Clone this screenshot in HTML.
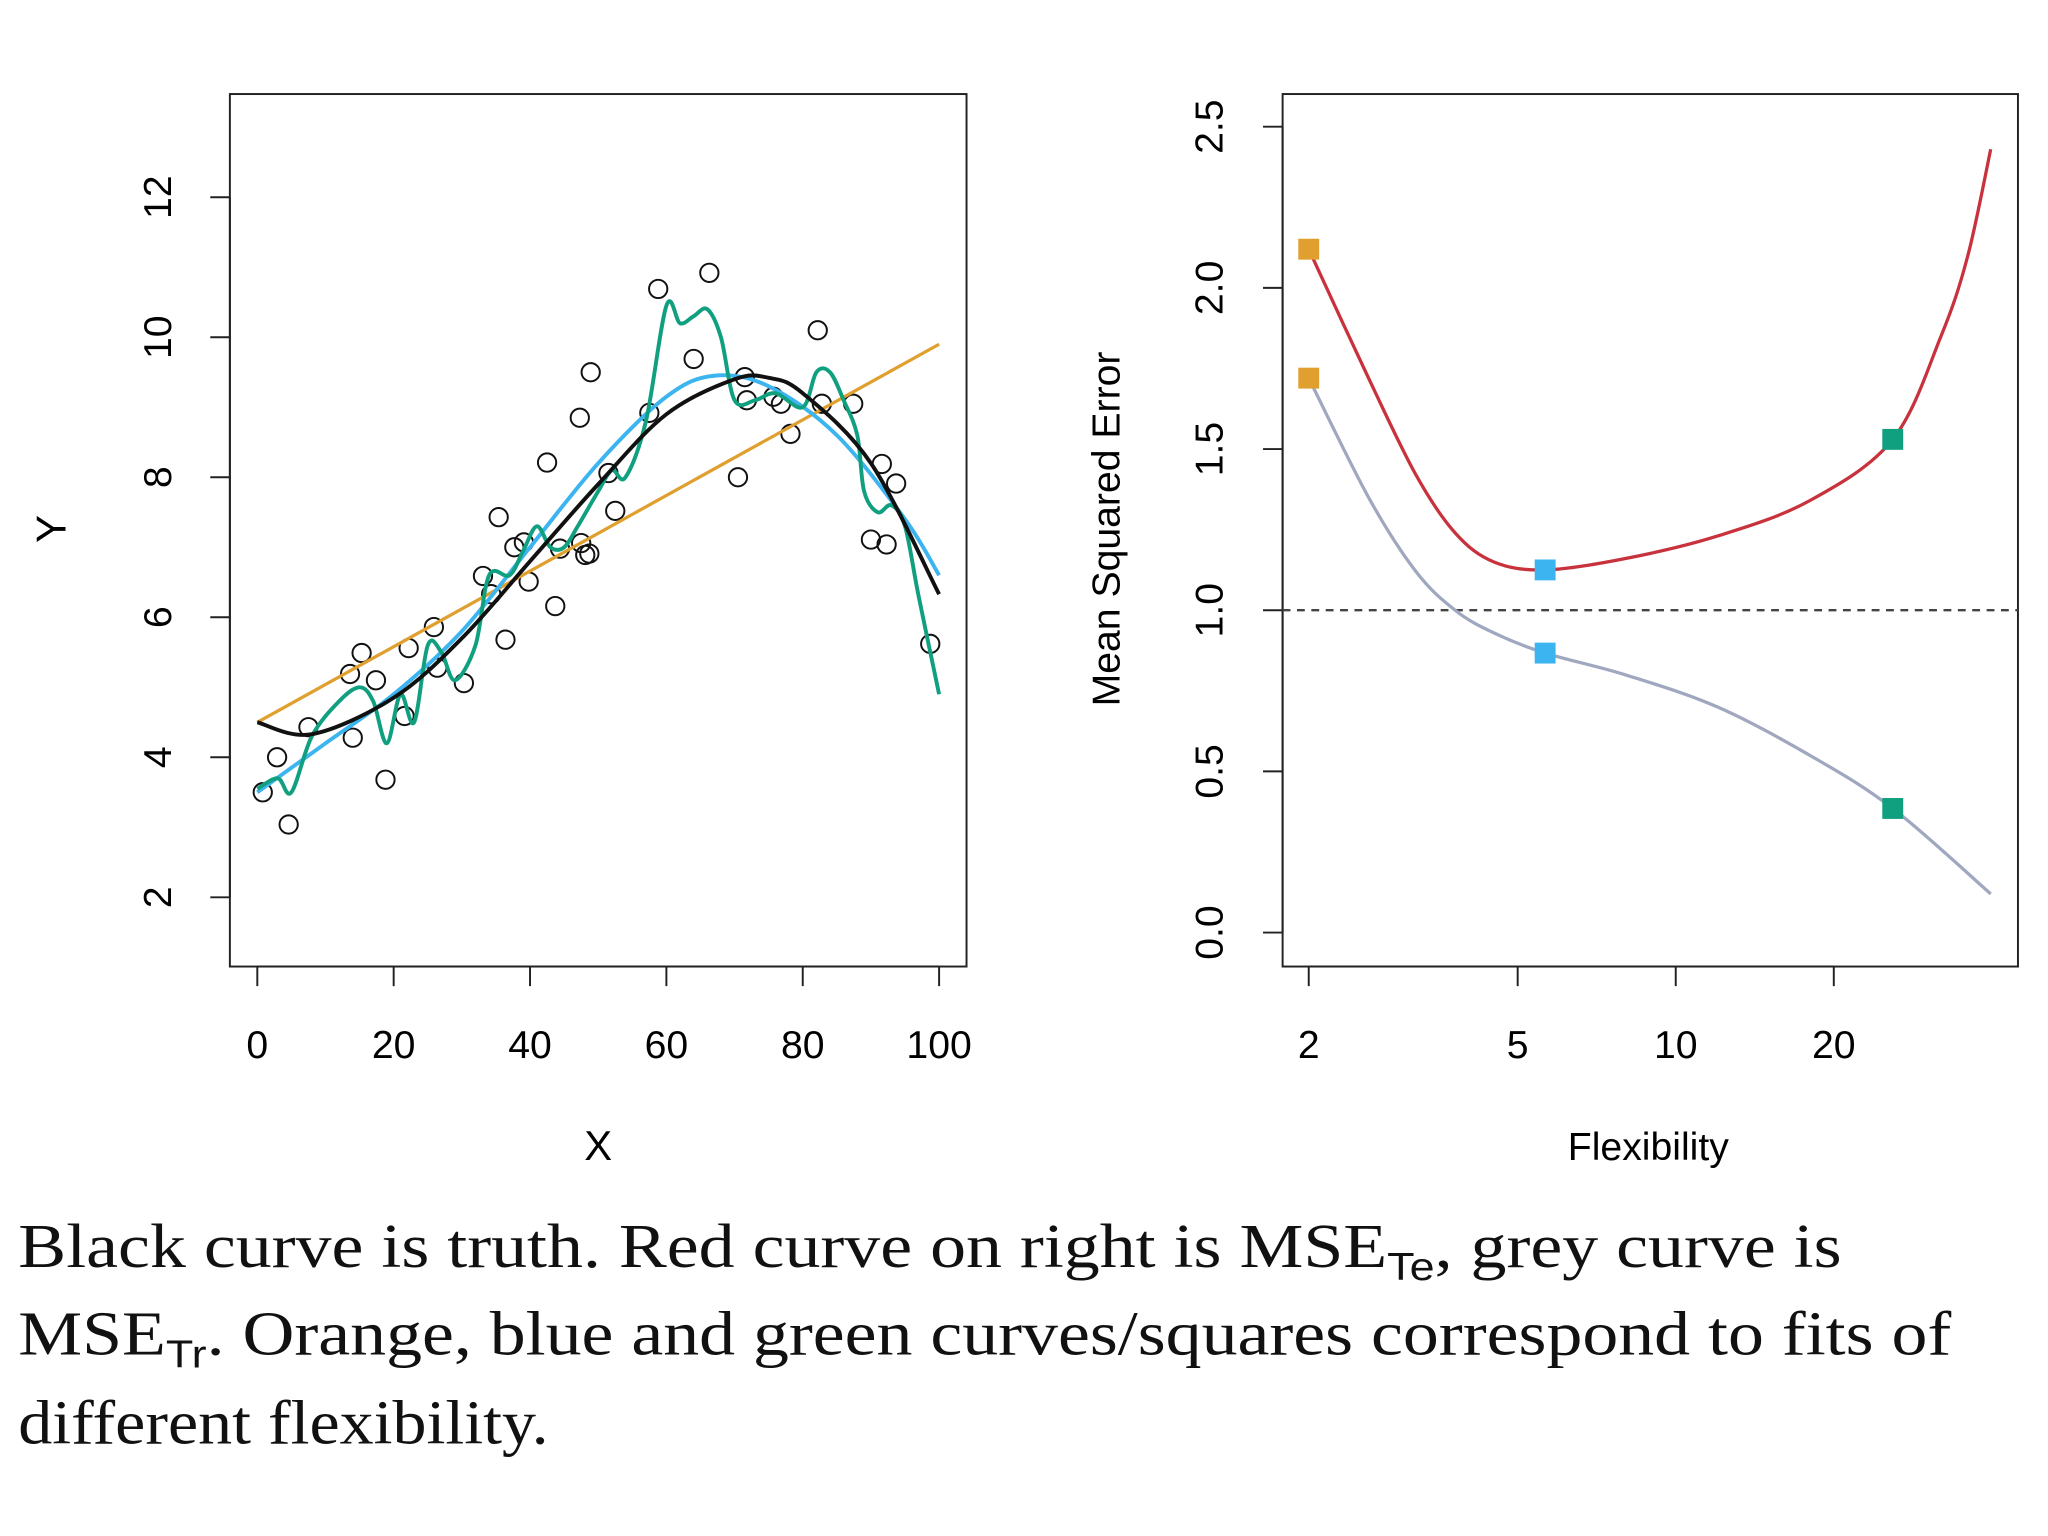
<!DOCTYPE html>
<html><head><meta charset="utf-8"><style>html,body{margin:0;padding:0;background:#fff}svg{display:block}</style></head>
<body>
<svg id="fig" width="2048" height="1536" viewBox="0 0 1568 1176" xmlns="http://www.w3.org/2000/svg" font-family="Liberation Sans, sans-serif">
<rect width="1568" height="1176" fill="#fff"/>
<g id="left"></g>
<g id="right"></g>
<g font-family="Liberation Serif, serif" font-size="48" fill="#111">
<text x="14" y="970" textLength="1396" lengthAdjust="spacingAndGlyphs">Black curve is truth. Red curve on right is MSE<tspan font-family="Liberation Sans, sans-serif" font-size="30" dy="10">Te</tspan><tspan dy="-10">, grey curve is</tspan></text>
<text x="14" y="1037" textLength="1480" lengthAdjust="spacingAndGlyphs">MSE<tspan font-family="Liberation Sans, sans-serif" font-size="30" dy="10">Tr</tspan><tspan dy="-10">. Orange, blue and green curves/squares correspond to fits of</tspan></text>
<text x="14" y="1105" textLength="406" lengthAdjust="spacingAndGlyphs">different flexibility.</text>
</g>
</svg>
<script>
const ptsX=[0.8,2.9,4.6,7.5,13.6,14,15.3,17.4,18.8,21.6,22.2,25.9,26.4,30.3,33.1,34.3,35.4,36.4,37.7,39.1,39.8,42.5,43.7,44.4,47.3,47.5,48.1,48.7,48.9,51.5,52.5,57.5,58.8,64,66.3,70.5,71.5,71.8,75.7,76.8,78.2,82.2,82.8,87.4,90,91.6,92.3,93.7,98.7];
const ptsY=[3.5,4.0,3.04,4.43,5.19,4.28,5.49,5.1,3.68,4.59,5.56,5.86,5.28,5.06,6.59,6.33,7.43,5.68,7.0,7.07,6.51,8.21,6.16,6.98,8.85,7.06,6.89,6.91,9.5,8.06,7.52,8.92,10.69,9.69,10.92,8.0,9.43,9.1,9.15,9.05,8.62,10.1,9.05,9.05,7.11,8.19,7.04,7.91,5.62];
const truthX=[0,8,20,30,40,50,60,70,75,80,90,100];
const truthY=[4.5,4.33,4.85,5.7,6.8,7.9,8.9,9.4,9.42,9.2,8.2,6.33];
const orangeX=[0,100];
const orangeY=[4.5,9.9];
const blueX=[0,10,20,30,40,50,60,67,75,85,95,100];
const blueY=[3.5,4.2,4.9,5.8,7.0,8.2,9.15,9.45,9.3,8.6,7.4,6.6];
const greenX=[0,3,5,8,12,15,17,19,21,23,25,27,29,32,34,37,39,41,43,45,47,50,52,54,57,60,62,64,66,68,70,73,76,80,82,84,86,88,89,91,93,95,97,100];
const greenY=[3.55,3.7,3.5,4.3,4.8,5.0,4.8,4.2,4.9,4.5,5.6,5.5,5.1,5.6,6.6,6.6,6.95,7.3,7.0,7.0,7.3,7.8,8.1,8.0,8.8,10.45,10.2,10.3,10.4,10.0,9.1,9.1,9.2,9.0,9.5,9.5,9.1,8.6,7.8,7.5,7.6,7.3,6.3,4.9];
const leftXTicks=[0,20,40,60,80,100];
const leftYTicks=[2,4,6,8,10,12];
const testX=[2,2.6,3.2,3.8,4.5,5.64,8,12,18,25.9,32,36,39.8];
const testY=[2.12,1.72,1.42,1.24,1.15,1.125,1.16,1.23,1.34,1.53,1.85,2.1,2.43];
const trainX=[2,2.6,3.2,3.8,4.5,5.64,8,12,18,25.9,39.8];
const trainY=[1.72,1.35,1.12,1.0,0.93,0.867,0.8,0.7,0.55,0.385,0.12];
const sqX=[2,5.64,25.9];
const sqTest=[2.12,1.125,1.53];
const sqTrain=[1.72,0.867,0.385];
const sqColors=['#e0a030','#3cb4f0','#10a080'];
const rightXTicks=[2,5,10,20];
const rightYTicks=[0.0,0.5,1.0,1.5,2.0,2.5];

const NS='http://www.w3.org/2000/svg';
function mk(tag,attrs,parent){const e=document.createElementNS(NS,tag);for(const k in attrs)e.setAttribute(k,attrs[k]);parent.appendChild(e);return e;}
function smooth(p){let d='M'+p[0][0]+','+p[0][1];for(let i=0;i<p.length-1;i++){const p0=p[i-1]||p[i],p1=p[i],p2=p[i+1],p3=p[i+2]||p2;d+=' C'+(p1[0]+(p2[0]-p0[0])/6)+','+(p1[1]+(p2[1]-p0[1])/6)+' '+(p2[0]-(p3[0]-p1[0])/6)+','+(p2[1]-(p3[1]-p1[1])/6)+' '+p2[0]+','+p2[1];}return d;}

const L=document.getElementById('left');
const lx=v=>197+v*5.22, ly=v=>687-(v-2)*53.6;
let e=mk('rect',{x:176,y:72,width:564,height:668,fill:'none',stroke:'#222','stroke-width':1.5},L);

mk('line',{x1:lx(0),x2:lx(100),y1:740,y2:740,stroke:'#222','stroke-width':1.5},L);
leftXTicks.forEach(t=>{mk('line',{x1:lx(t),x2:lx(t),y1:740,y2:755,stroke:'#222','stroke-width':1.5},L);
 const tx=mk('text',{x:lx(t),y:810,'font-size':30,'text-anchor':'middle'},L);tx.textContent=t;
 });
mk('line',{x1:176,x2:176,y1:ly(2),y2:ly(12),stroke:'#222','stroke-width':1.5},L);
leftYTicks.forEach(t=>{mk('line',{x1:161,x2:176,y1:ly(t),y2:ly(t),stroke:'#222','stroke-width':1.5},L);
 const tx=mk('text',{x:0,y:0,'font-size':30,'text-anchor':'middle',transform:'translate(131,'+ly(t)+') rotate(-90)'},L);tx.textContent=t;
 });
e=mk('text',{x:458,y:888,'font-size':32,'text-anchor':'middle'},L);e.textContent='X';

e=mk('text',{x:0,y:0,'font-size':32,'text-anchor':'middle',transform:'translate(50,405) rotate(-90)'},L);e.textContent='Y';

ptsX.forEach((x,i)=>{const c=mk('circle',{cx:lx(x),cy:ly(ptsY[i]),r:7,fill:'none',stroke:'#111','stroke-width':1.5},L);
 });
function curve(xs,ys,col,w,name,fx,fy,P){const p=mk('path',{d:smooth(xs.map((x,i)=>[fx(x),fy(ys[i])])),fill:'none',stroke:col,'stroke-width':w},P);
 }
curve(orangeX,orangeY,'#e0a030',2.5,'linear-fit-orange',lx,ly,L);
curve(blueX,blueY,'#3cb4f0',3,'smooth-fit-blue',lx,ly,L);
curve(greenX,greenY,'#10a080',3,'wiggly-fit-green',lx,ly,L);
curve(truthX,truthY,'#111',3,'true-curve-black',lx,ly,L);

const R=document.getElementById('right');
const rx=v=>1002+(Math.log10(v)-Math.log10(2))*402, ry=v=>714-v*246.8;
e=mk('rect',{x:982,y:72,width:563,height:668,fill:'none',stroke:'#222','stroke-width':1.5},R);

mk('line',{x1:rx(2),x2:rx(20),y1:740,y2:740,stroke:'#222','stroke-width':1.5},R);
rightXTicks.forEach(t=>{mk('line',{x1:rx(t),x2:rx(t),y1:740,y2:755,stroke:'#222','stroke-width':1.5},R);
 const tx=mk('text',{x:rx(t),y:810,'font-size':30,'text-anchor':'middle'},R);tx.textContent=t;
 });
mk('line',{x1:982,x2:982,y1:ry(0),y2:ry(2.5),stroke:'#222','stroke-width':1.5},R);
rightYTicks.forEach(t=>{mk('line',{x1:967,x2:982,y1:ry(t),y2:ry(t),stroke:'#222','stroke-width':1.5},R);
 const tx=mk('text',{x:0,y:0,'font-size':30,'text-anchor':'middle',transform:'translate(936,'+ry(t)+') rotate(-90)'},R);tx.textContent=t.toFixed(1);
 });
e=mk('text',{x:1262,y:888,'font-size':30,'text-anchor':'middle'},R);e.textContent='Flexibility';

e=mk('text',{x:0,y:0,'font-size':30,'text-anchor':'middle',transform:'translate(857,405) rotate(-90)'},R);e.textContent='Mean Squared Error';

e=mk('line',{x1:982,x2:1545,y1:ry(1),y2:ry(1),stroke:'#444','stroke-width':1.8,'stroke-dasharray':'6,5'},R);

curve(testX,testY,'#c8323c',2.5,'test-mse-curve',rx,ry,R);
curve(trainX,trainY,'#a0a8c0',2.5,'train-mse-curve',rx,ry,R);
sqX.forEach((x,i)=>{[sqTest[i],sqTrain[i]].forEach((y,j)=>{const s=mk('rect',{x:rx(x)-8,y:ry(y)-8,width:16,height:16,fill:sqColors[i]},R);
 });});
</script>
</body></html>
